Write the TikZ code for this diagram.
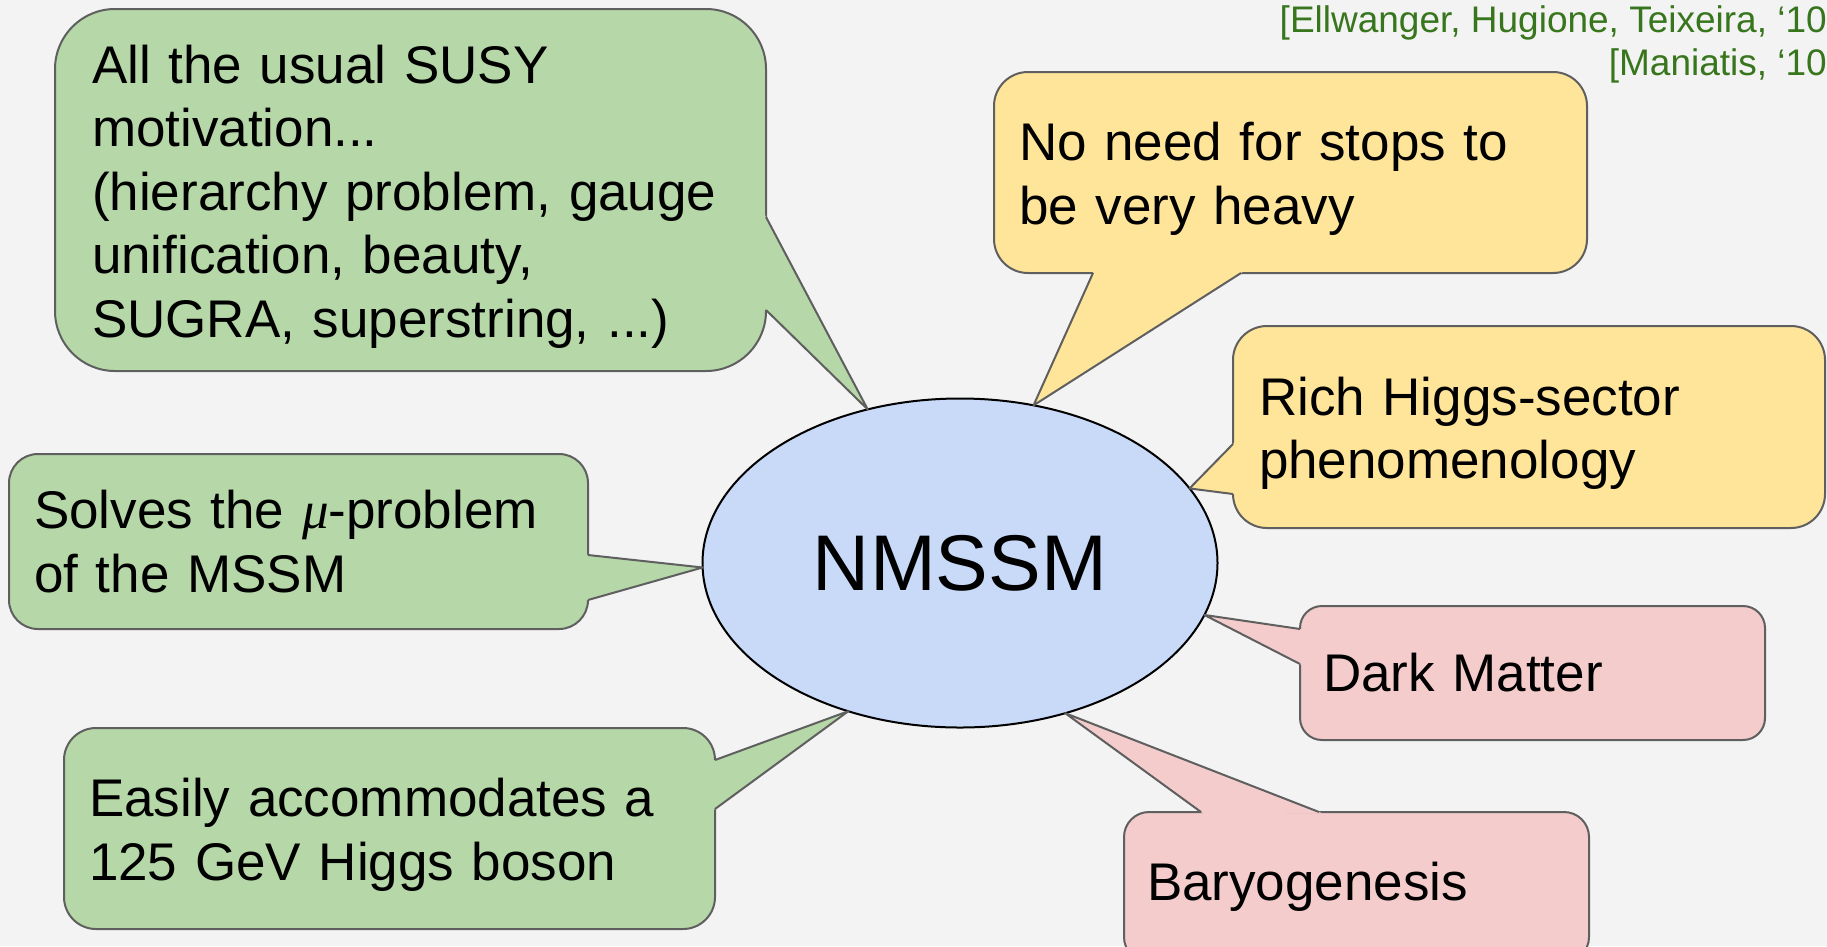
\documentclass[tikz,border=0pt]{standalone}
\usepackage{fontspec}
\setmainfont{Liberation Sans}
\newfontfamily\mufont{Liberation Serif}
\usepackage{tikz}
\usetikzlibrary{shapes.geometric,calc}
\definecolor{bggray}{HTML}{F3F3F3}
\definecolor{boxgreen}{HTML}{B6D7A8}
\definecolor{boxyellow}{HTML}{FFE599}
\definecolor{boxpink}{HTML}{F4CCCC}
\definecolor{nmssmblue}{HTML}{C9DAF8}
\definecolor{bordergray}{HTML}{5F5F5F}
\definecolor{citegreen}{HTML}{38761D}
\newcommand{\bubblefont}{\fontsize{53}{63.5}\selectfont}
\newcommand{\topgap}{\rule{0pt}{51pt}}
\tikzset{
    bubble/.style={
            draw=bordergray, line width=2pt, anchor=north west, align=left,
            inner ysep=0pt, outer sep=0pt, font=\bubblefont
        },
    tail/.style={draw=bordergray, line width=2pt, line join=round},
    cite/.style={
            text=citegreen, inner sep=0pt, anchor=base east,
            font=\fontsize{37}{43}\selectfont
        },
}
% #1 fill, #2 box anchor, #3 and #4 offsets of the tail base, #5 tip
\newcommand{\calloutTail}[5]{%
    \coordinate (tail a) at ($(#2)+(#3)$);
    \coordinate (tail b) at ($(#2)+(#4)$);
    \fill[#1] ($(tail a)!-4pt!(#5)$) -- (#5) -- ($(tail b)!-4pt!(#5)$) -- cycle;
    \draw[tail] (tail a) -- (#5) -- (tail b);
}
\begin{document}
\begin{tikzpicture}[x=1pt,y=-1pt]
        %set page and background
        \useasboundingbox (0,0) rectangle (1827,946);
        \clip (0,0) rectangle (1827,946);
        \fill[bggray] (0,0) rectangle (1827,946);
        %draw NMSSM ellipse
        \node[ellipse, draw=black, line width=2pt, fill=nmssmblue, minimum width=515pt, minimum height=329pt,
            inner sep=0pt, outer sep=0pt, font=\fontsize{79}{80}\selectfont] (nmssm) at (960,563) {NMSSM};
        %draw boxes
        \node[bubble, fill=boxgreen, rounded corners=60pt, minimum width=711pt, minimum height=362pt,
            inner xsep=37pt, text width=637pt] (susy) at (55,9)
            {\topgap All the usual SUSY\\motivation...\\(hierarchy problem, gauge\\unification, beauty,\\SUGRA, superstring, ...)};
        \node[bubble, fill=boxyellow, rounded corners=34pt, minimum width=593pt, minimum height=201pt,
            inner xsep=25pt, text width=543pt] (stops) at (994,72) {\topgap No need for stops to\\be very heavy};
        \node[bubble, fill=boxyellow, rounded corners=34pt, minimum width=592pt, minimum height=202pt,
            inner xsep=26pt, text width=540pt] (higgs) at (1233,326) {\topgap Rich Higgs-sector\\phenomenology};
        \node[bubble, fill=boxgreen, rounded corners=29pt, minimum width=579pt, minimum height=175pt,
            inner xsep=25pt, text width=529pt] (mu) at (9,454) {Solves the {\mufont\itshape μ}-problem\\of the MSSM};
        \node[bubble, fill=boxgreen, rounded corners=32pt, minimum width=651pt, minimum height=201pt,
            inner xsep=25pt, text width=601pt] (mass) at (64,728) {\topgap Easily accommodates a\\125 GeV Higgs boson};
        \node[bubble, fill=boxpink, rounded corners=22pt, minimum width=465pt, minimum height=134pt,
            inner xsep=23pt, text width=419pt] (dm) at (1300,606) {Dark Matter};
        \node[bubble, fill=boxpink, rounded corners=25pt, minimum width=465pt, minimum height=150pt,
            inner xsep=23pt, text width=419pt] (baryo) at (1124,812) {Baryogenesis};
        %draw tails from boxes to NMSSM
        \calloutTail{boxgreen}{susy.north east}{0,208}{0,301}{nmssm.121}
        \calloutTail{boxyellow}{stops.south west}{99,0}{247,0}{nmssm.65}
        \calloutTail{boxyellow}{higgs.north west}{0,118}{0,168}{nmssm.18}
        \calloutTail{boxgreen}{mu.north east}{0,101}{0,146}{nmssm.181}
        \calloutTail{boxgreen}{mass.north east}{0,32}{0,81}{nmssm.233}
        \calloutTail{boxpink}{dm.north west}{0,23}{0,58}{nmssm.348}
        \calloutTail{boxpink}{baryo.north west}{77,0}{195,0}{nmssm.305}
        %label references
        \node[cite] (ellwanger) at (1827,32) {[Ellwanger, Hugione, Teixeira, ‘10};
        \node[cite] (maniatis) at (1827,75) {[Maniatis, ‘10};
    \end{tikzpicture}
\end{document}
